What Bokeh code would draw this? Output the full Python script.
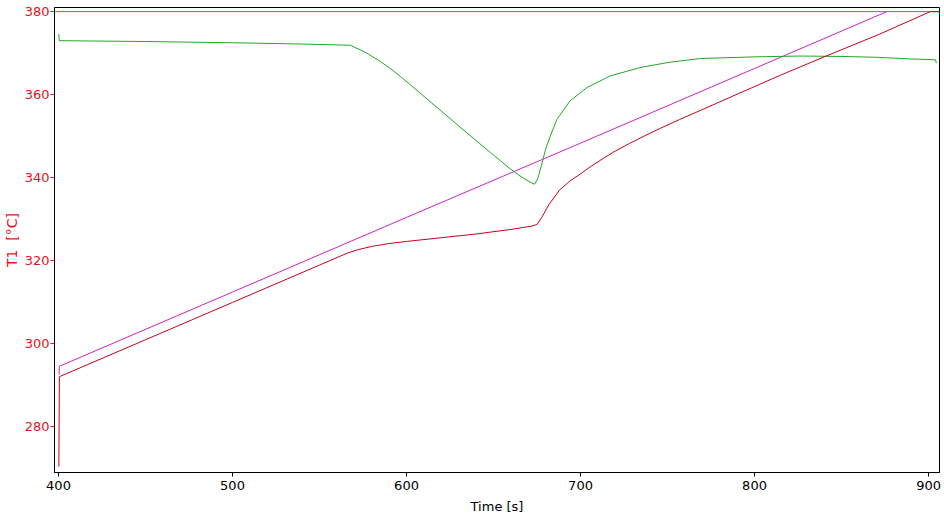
from bokeh.plotting import figure
from bokeh.models import Range1d, FixedTicker
from bokeh.embed import file_html
from bokeh.resources import INLINE

# ---- data ----
x_ticks = [400, 500, 600, 700, 800, 900]
y_ticks = [280, 300, 320, 340, 360, 380]

# upper limit line (green, constant)
limit_time = [397.0, 907.0]
limit_temp = [380.0, 380.0]

# T1 (red)
t1_time = [400.2, 400.5, 450, 500, 550, 566, 572, 580, 590, 600, 620, 640, 660, 672, 675,
           678, 682, 688, 694, 700, 706, 713, 720, 728, 737, 746, 757, 769, 790, 815, 840,
           872, 901, 906]
t1_temp = [270.3, 292.0, 300.9, 309.9, 318.9, 321.8, 322.6, 323.4, 324.1, 324.6, 325.5,
           326.4, 327.5, 328.3, 328.7, 330.6, 333.6, 337.0, 339.2, 340.9, 342.7, 344.6,
           346.4, 348.2, 350.1, 351.9, 354.0, 356.2, 360.1, 364.7, 369.1, 374.6, 380.0, 380.0]

# program / setpoint (magenta)
prog_time = [400.3, 400.5, 500, 600, 700, 800, 876]
prog_temp = [292.5, 294.5, 312.4, 330.4, 348.3, 366.3, 380.0]

# second signal (green)
g_time = [400.2, 400.4, 450, 500, 540, 567.6, 573.4, 578, 584.9, 590, 596.4, 602.1, 613.6,
          625.1, 636.6, 648.1, 659.6, 667, 671.1, 673.6, 675.5, 677.5, 680, 682.6, 686.4,
          694, 703.7, 717, 734, 751, 769, 800, 826, 850, 870, 890, 904, 904.5]
g_temp = [374.6, 373.0, 372.8, 372.5, 372.2, 371.9, 370.8, 369.8, 368.0, 366.5, 364.4,
          362.4, 358.3, 354.2, 350.1, 346.1, 342.1, 339.9, 338.9, 338.4, 339.8, 342.9,
          346.9, 350.0, 354.0, 358.5, 361.7, 364.5, 366.5, 367.8, 368.7, 369.1, 369.3,
          369.2, 369.0, 368.6, 368.4, 367.6]

FONT = "DejaVu Sans"
RED = "#e8101e"

p = figure(frame_width=885, frame_height=465, output_backend="svg", toolbar_location=None,
           x_range=Range1d(397.7, 906.3), y_range=Range1d(268.9, 381.0))
p.min_border_left = 46
p.min_border_top = 7
p.min_border_right = 5
p.min_border_bottom = 0
p.background_fill_color = "white"
p.border_fill_color = "white"
p.outline_line_color = "black"
p.outline_line_alpha = 1.0
p.outline_line_width = 1
p.grid.visible = False

p.line(limit_time, limit_temp, line_color="#22a822", line_width=1)
p.line(prog_time, prog_temp, line_color="#cc22cc", line_width=1)
p.line(g_time, g_temp, line_color="#22a822", line_width=1)
p.line(t1_time, t1_temp, line_color="#c8001e", line_width=1)

xa = p.xaxis[0]
xa.ticker = FixedTicker(ticks=x_ticks)
xa.axis_label = "Time [s]"
xa.axis_label_text_font = FONT
xa.axis_label_text_font_size = "13px"
xa.axis_label_text_font_style = "normal"
xa.axis_label_text_color = "black"
xa.axis_label_standoff = 6
xa.major_label_text_font = FONT
xa.major_label_text_font_size = "13px"
xa.major_label_text_color = "black"
xa.major_label_standoff = 4
xa.major_tick_out = 4
xa.major_tick_in = 0
xa.minor_tick_out = 0
xa.minor_tick_in = 0
xa.axis_line_color = "black"
xa.major_tick_line_color = "black"

ya = p.yaxis[0]
ya.ticker = FixedTicker(ticks=y_ticks)
ya.axis_label = "T1\u00a0\u00a0[°C]"
ya.axis_label_text_font = FONT
ya.axis_label_text_font_size = "14px"
ya.axis_label_text_font_style = "normal"
ya.axis_label_text_color = RED
ya.axis_label_standoff = 2
ya.major_label_text_font = FONT
ya.major_label_text_font_size = "13px"
ya.major_label_text_color = RED
ya.major_label_standoff = 1
ya.major_tick_out = 4
ya.major_tick_in = 0
ya.minor_tick_out = 0
ya.minor_tick_in = 0
ya.axis_line_color = "black"
ya.major_tick_line_color = RED

open("out.html", "w").write(file_html(p, INLINE))
